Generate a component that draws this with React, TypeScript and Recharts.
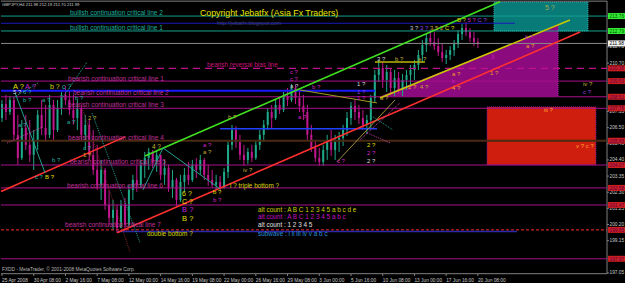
import React from "react";
import { ComposedChart, XAxis, YAxis, Bar, Scatter, ReferenceLine, ReferenceArea } from "recharts";

const FONT = "'Liberation Sans', Arial, sans-serif";
const BULL = "#1fa98a";
const BEAR = "#c0168e";

// ---- candles (H4 bars, two bars per drawn candle) ----
const opens = [
  207.13, 208.04, 207.52, 208.30, 206.03, 204.53, 206.48, 205.38, 204.73, 205.70,
  207.33, 206.48, 206.03, 207.98, 206.35, 207.78, 208.63, 208.30, 207.65, 207.13,
  207.78, 206.03, 206.68, 204.73, 203.75, 202.78, 203.75, 201.48, 200.63, 201.15,
  199.98, 201.48, 200.18, 202.45, 203.10, 202.78, 204.08, 204.53, 204.92, 204.27,
  204.73, 203.43, 203.88, 202.58, 203.10, 201.80, 202.97, 203.43, 203.10, 204.08,
  203.75, 204.40, 203.43, 203.10, 202.78, 202.97, 202.58, 203.62, 205.38, 206.35,
  205.57, 204.73, 204.40, 204.92, 204.53, 205.38, 206.03, 206.68, 207.52, 207.13,
  207.98, 207.65, 208.56, 208.30, 209.08, 208.43, 207.91, 207.52, 206.03, 205.18,
  204.53, 204.27, 205.05, 205.70, 205.05, 205.57, 205.83, 206.35, 207.13, 207.91,
  207.52, 207.13, 206.68, 207.00, 208.43, 209.93, 210.38, 209.60, 210.12, 209.08,
  209.73, 208.95, 209.60, 209.93, 210.25, 210.58, 211.23, 211.88, 212.33, 212.07,
  211.81, 211.42, 211.03, 211.23, 211.55, 211.94, 212.59, 212.98, 212.72, 212.33,
  212.07,
];
const highs = [
  208.30, 208.63, 208.56, 208.43, 207.33, 207.00, 207.33, 207.00, 206.35, 207.65,
  208.30, 207.98, 208.63, 208.30, 208.30, 208.82, 209.21, 208.95, 208.63, 208.30,
  207.98, 207.33, 207.00, 206.35, 205.38, 204.40, 203.88, 202.45, 201.80, 201.48,
  201.80, 201.93, 202.78, 203.43, 204.08, 204.40, 204.92, 205.18, 205.05, 205.05,
  204.73, 204.40, 204.08, 203.75, 203.23, 203.43, 203.88, 204.27, 204.40, 204.53,
  204.73, 204.53, 204.08, 203.75, 203.43, 203.36, 203.88, 205.70, 206.68, 206.61,
  206.03, 205.38, 205.18, 205.38, 205.70, 206.35, 207.00, 207.78, 207.98, 208.30,
  208.43, 208.82, 209.08, 209.34, 209.28, 208.95, 208.63, 207.98, 206.68, 205.70,
  205.18, 205.38, 206.03, 206.35, 206.03, 206.22, 206.68, 207.52, 208.17, 208.30,
  207.98, 207.65, 207.33, 208.63, 210.25, 210.90, 210.77, 210.58, 210.38, 210.25,
  210.12, 209.99, 210.25, 210.58, 210.90, 211.55, 212.20, 212.66, 212.85, 212.72,
  212.33, 211.94, 211.55, 211.81, 212.20, 212.85, 213.24, 213.37, 212.98, 212.72,
  212.33,
];
const lows = [
  206.87, 207.00, 207.33, 205.70, 204.08, 204.40, 205.05, 204.27, 203.75, 205.05,
  206.03, 205.57, 205.83, 205.70, 206.22, 207.33, 207.98, 207.33, 206.68, 206.35,
  205.70, 205.05, 204.40, 203.43, 202.45, 201.80, 201.15, 200.18, 199.85, 199.66,
  199.98, 199.72, 199.98, 201.80, 202.32, 202.58, 203.23, 203.75, 203.88, 203.62,
  203.10, 202.78, 202.32, 201.93, 201.41, 201.67, 202.32, 202.78, 202.97, 203.23,
  203.43, 203.10, 202.71, 202.58, 202.45, 202.45, 202.52, 203.23, 205.05, 205.18,
  204.40, 204.01, 204.14, 204.27, 204.40, 205.05, 205.57, 206.35, 206.48, 207.00,
  207.39, 207.52, 207.91, 208.17, 208.04, 207.52, 207.00, 205.70, 204.92, 204.27,
  204.01, 204.01, 204.40, 204.66, 204.40, 204.92, 205.31, 205.96, 206.68, 207.00,
  206.74, 206.35, 206.09, 206.48, 208.17, 209.47, 209.08, 208.82, 208.63, 208.56,
  208.69, 208.56, 208.95, 209.21, 209.60, 210.25, 210.77, 211.42, 211.81, 211.55,
  211.16, 210.77, 210.64, 210.90, 211.16, 211.68, 212.20, 212.46, 212.07, 211.81,
  211.68,
];
const closes = [
  208.04, 207.52, 208.30, 206.03, 204.53, 206.48, 205.38, 204.73, 205.70, 207.33,
  206.48, 206.03, 207.98, 206.35, 207.78, 208.63, 208.30, 207.65, 207.13, 207.78,
  206.03, 206.68, 204.73, 203.75, 202.78, 203.75, 201.48, 200.63, 201.15, 199.98,
  201.48, 200.18, 202.45, 203.10, 202.78, 204.08, 204.53, 204.92, 204.27, 204.73,
  203.43, 203.88, 202.58, 203.10, 201.80, 202.97, 203.43, 203.10, 204.08, 203.75,
  204.40, 203.43, 203.10, 202.78, 202.97, 202.58, 203.62, 205.38, 206.35, 205.57,
  204.73, 204.40, 204.92, 204.53, 205.38, 206.03, 206.68, 207.52, 207.13, 207.98,
  207.65, 208.56, 208.30, 209.08, 208.43, 207.91, 207.52, 206.03, 205.18, 204.53,
  204.27, 205.05, 205.70, 205.05, 205.57, 205.83, 206.35, 207.13, 207.91, 207.52,
  207.13, 206.68, 207.00, 208.43, 209.93, 210.38, 209.60, 210.12, 209.08, 209.73,
  208.95, 209.60, 209.93, 210.25, 210.58, 211.23, 211.88, 212.33, 212.07, 211.81,
  211.42, 211.03, 211.23, 211.55, 211.94, 212.59, 212.98, 212.72, 212.33, 212.07,
  211.98,
];
const candles = opens.map((o, i) => ({ x: i * 2, o, h: highs[i], l: lows[i], c: closes[i] }));

// ---- axes ----
const X_LEFT = -0.5;
const X_FRAME = 305.1; // right edge of the price pane (price scale strip lies to its right)
const X_END = 314.17;
const Y_MIN = 196.98;
const Y_MAX = 214.74;
const timeTicks = [0, 16, 32, 48, 64, 80, 96, 112, 128, 144, 160, 176, 192, 208, 224, 240];
const timeLabels = [
  "25 Apr 2008", "30 Apr 08:00", "2 May 16:00", "7 May 08:00", "12 May 00:00", "14 May 16:00",
  "19 May 08:00", "22 May 00:00", "26 May 16:00", "29 May 08:00", "3 Jun 00:00", "5 Jun 16:00",
  "10 Jun 08:00", "13 Jun 00:00", "17 Jun 16:00", "20 Jun 08:00",
];
const priceTicks = [211.75, 210.7, 207.55, 206.5, 205.45, 204.4, 203.35, 202.3, 201.25, 200.2, 199.15, 197.05];

// ---- price tags on the price scale ----
const tagPrices = [213.76, 212.79, 211.98, 210.36, 209.53, 208.51, 207.76, 205.65, 204.07, 202.58, 201.47, 199.85, 197.97];
const tagKinds = ["g", "g", "w", "r", "r", "r", "r", "r", "r", "r", "r", "r", "r"];
const scaleMarks = [
  ...priceTicks.map((p) => ({ x: X_FRAME, y: p, k: "t" })),
  ...tagPrices.map((p, i) => ({ x: X_FRAME, y: p, k: tagKinds[i] })),
];

// ---- horizontal levels ----
const fullLines = [
  { y: 213.76, c: "#16a08c", w: 1, d: "" },
  { y: 212.79, c: "#16a08c", w: 1, d: "" },
  { y: 211.98, c: "#8a8a8a", w: 1, d: "" },
  { y: 210.36, c: "#c0108c", w: 1.2, d: "7 5" },
  { y: 209.53, c: "#a8108a", w: 1, d: "" },
  { y: 208.51, c: "#a8108a", w: 1, d: "" },
  { y: 207.76, c: "#a8108a", w: 1, d: "" },
  { y: 205.65, c: "#4a2a12", w: 2, d: "" },
  { y: 204.07, c: "#a8108a", w: 1, d: "" },
  { y: 202.58, c: "#a8108a", w: 1, d: "" },
  { y: 201.47, c: "#a8108a", w: 1, d: "" },
  { y: 199.85, c: "#ff2a2a", w: 1, d: "3 2" },
  { y: 197.97, c: "#a8108a", w: 1, d: "" },
];

const partLines = [
  { x1: -0.5, x2: 258.7, y: 213.29, c: "#1a1ab8", w: 1 },
  { x1: -0.5, x2: 188.1, y: 208.9, c: "#1818ff", w: 2 },
  { x1: 110, x2: 189.1, y: 206.43, c: "#2040ff", w: 1.5 },
  { x1: 58, x2: 259.7, y: 199.75, c: "#2a2aa8", w: 1.5 },
  { x1: 188.1, x2: 213.3, y: 210.77, c: "#b8b800", w: 1.5 },
];

// ---- trend lines [x1, y1, x2, y2] ----
const trendLines = [
  { p: [72.1, 204.66, 251.1, 214.69], c: "#40e020", w: 1.6, d: "" },
  { p: [-0.5, 202.35, 62.0, 205.9], c: "#ff3030", w: 1.6, d: "" },
  { p: [58.0, 199.66, 291.5, 212.72], c: "#ff3030", w: 1.6, d: "" },
  { p: [190.6, 208.43, 286.4, 213.5], c: "#c8c800", w: 1.5, d: "" },
  { p: [150.3, 208.95, 189.1, 208.11], c: "#a09a20", w: 1, d: "" },
  { p: [5.5, 208.43, 18.2, 209.41], c: "#20a090", w: 1, d: "1 1" },
  { p: [30.8, 208.5, 42.9, 210.77], c: "#20a090", w: 1, d: "1 1" },
  { p: [6.6, 208.76, 21.7, 203.56], c: "#20a090", w: 1, d: "" },
  { p: [45.4, 207.45, 69.6, 199.01], c: "#20a090", w: 1, d: "1 1" },
  { p: [71.1, 202.45, 81.2, 205.18], c: "#20a090", w: 1, d: "" },
  { p: [81.2, 205.18, 109.9, 202.52], c: "#20a090", w: 1, d: "" },
  { p: [40.8, 207.65, 64.5, 198.42], c: "#802020", w: 1, d: "1 1" },
  { p: [168.9, 204.27, 198.2, 208.3], c: "#a09040", w: 1, d: "" },
  { p: [180.5, 205.7, 200.7, 208.11], c: "#c040a0", w: 1, d: "1 1" },
  { p: [184.1, 206.16, 195.7, 205.51], c: "#c040a0", w: 1, d: "1 1" },
  { p: [187.1, 207.2, 197.2, 206.35], c: "#20a090", w: 1, d: "1 1" },
  { p: [2.5, 205.5, 20.7, 206.55], c: "#c040a0", w: 1, d: "1 1" },
];

// ---- text annotations ----
const TEAL = "#20b0a0";
const OLIVE = "#c0b030";
const MAG = "#d020c0";
const PURP = "#9040e0";
const WHITE = "#d8d8d8";
const YEL = "#e0e000";
const ORG = "#f0a020";
const CRIT = "#c0309a";
const annotations: any[] = [
  { x: 0, y: 214.54, t: "GBPJPY,H4  211.98 212.19 211.70 211.99", c: "#d0d0d0", s: 4.2 },
  { x: 99.8, y: 213.99, t: "Copyright Jebatfx (Asia Fx Traders)", c: "#e8e800", s: 8.8 },
  { x: 108.4, y: 213.31, t: "http://jebatfx.blogspot.com", c: "#40407a", s: 5.5 },
  { x: 34.3, y: 213.97, t: "bullish continuation critical line 2", c: "#1fb09c", s: 6.5 },
  { x: 34.3, y: 213.03, t: "bullish continuation critical line 1", c: "#1fb09c", s: 6.5 },
  { x: 103.4, y: 210.61, t: "bearish reversal bias line", c: "#c81478", s: 6.4 },
  { x: 33.3, y: 209.73, t: "bearish continuation critical line 1", c: CRIT, s: 6.5 },
  { x: 35.8, y: 208.76, t: "bearish continuation critical line 2", c: CRIT, s: 6.5 },
  { x: 33.3, y: 207.98, t: "bearish continuation critical line 3", c: CRIT, s: 6.5 },
  { x: 33.3, y: 205.88, t: "bearish continuation critical line 4", c: CRIT, s: 6.5 },
  { x: 34.3, y: 204.27, t: "bearish continuation critical line 5", c: CRIT, s: 6.5 },
  { x: 32.8, y: 202.71, t: "bearish continuation critical line 6", c: CRIT, s: 6.5 },
  { x: 31.8, y: 200.18, t: "bearish continuation critical line 7", c: CRIT, s: 6.5 },
  { x: 73.1, y: 199.59, t: "double bottom ?", c: "#d8d800", s: 6.4 },
  { x: 115.0, y: 202.71, t: "i ? triple bottom ?", c: "#d8d800", s: 6.4 },
  { x: 129.1, y: 201.2, t: "alt count : A B C 1 2 3 4 5 a b c d e", c: "#d0d000", s: 6.4 },
  { x: 129.1, y: 200.71, t: "alt count : A B C 1 2 3 4 5 a b c", c: "#c010c0", s: 6.4 },
  { x: 129.1, y: 200.19, t: "alt count : 1 2 3 4 5", c: "#e0e0e0", s: 6.4 },
  { x: 129.1, y: 199.64, t: "subwave : i ii iii iv v a b c", c: "#2a90d8", s: 6.4 },
  { x: 5.55, y: 209.21, t: "A ?", c: YEL, s: 7.5 },
  { x: 11.6, y: 209.21, t: "A ?", c: "#c020d0", s: 7.5 },
  { x: 24.2, y: 209.21, t: "b ?", c: "#d8d800", s: 7 },
  { x: 30.3, y: 209.21, t: "c ?", c: TEAL, s: 7 },
  { x: 5.55, y: 208.8, t: "5 ?", c: WHITE, s: 6 },
  { x: 10.6, y: 208.8, t: "6 ?", c: TEAL, s: 6 },
  { x: 10.6, y: 208.3, t: "b ?", c: TEAL, s: 6 },
  { x: 20.2, y: 208.3, t: "a ?", c: TEAL, s: 6 },
  { x: 36.8, y: 208.42, t: "b ?", c: TEAL, s: 6 },
  { x: 8.1, y: 206.68, t: "a ?", c: TEAL, s: 6 },
  { x: 32.8, y: 206.87, t: "a ?", c: TEAL, s: 6 },
  { x: 43.4, y: 207.13, t: "2 ?", c: OLIVE, s: 6 },
  { x: 40.8, y: 205.18, t: "c ?", c: TEAL, s: 6 },
  { x: 40.8, y: 204.73, t: "1 ?", c: OLIVE, s: 6 },
  { x: 25.2, y: 204.4, t: "b ?", c: TEAL, s: 6 },
  { x: 16.6, y: 203.3, t: "c ?", c: TEAL, s: 6 },
  { x: 21.7, y: 203.3, t: "B ?", c: YEL, s: 6 },
  { x: 75.6, y: 205.25, t: "4 ?", c: OLIVE, s: 6.5 },
  { x: 90.8, y: 202.19, t: "6 ?", c: YEL, s: 7 },
  { x: 90.8, y: 201.67, t: "C ?", c: YEL, s: 7 },
  { x: 90.8, y: 201.2, t: "B ?", c: "#c020e0", s: 7.5 },
  { x: 90.8, y: 200.61, t: "B ?", c: YEL, s: 7.5 },
  { x: 101.4, y: 205.38, t: "a ?", c: MAG, s: 6 },
  { x: 101.4, y: 204.92, t: "a ?", c: OLIVE, s: 6 },
  { x: 106.4, y: 202.32, t: "b ?", c: YEL, s: 6 },
  { x: 106.4, y: 201.8, t: "b ?", c: MAG, s: 6 },
  { x: 114.0, y: 207.2, t: "b ?", c: OLIVE, s: 6 },
  { x: 121.5, y: 203.75, t: "iv ?", c: OLIVE, s: 6 },
  { x: 149.3, y: 207.2, t: "a ?", c: MAG, s: 6 },
  { x: 145.2, y: 210.12, t: "c ?", c: MAG, s: 6 },
  { x: 145.2, y: 209.67, t: "c ?", c: MAG, s: 6 },
  { x: 145.2, y: 209.21, t: "a ?", c: "#d0c0d0", s: 6 },
  { x: 156.3, y: 209.15, t: "b ?", c: MAG, s: 6 },
  { x: 179.0, y: 209.34, t: "1 ?", c: WHITE, s: 6 },
  { x: 179.0, y: 208.85, t: "1 ?", c: PURP, s: 6 },
  { x: 179.0, y: 208.4, t: "1 ?", c: MAG, s: 6 },
  { x: 184.1, y: 205.38, t: "2 ?", c: YEL, s: 6 },
  { x: 184.1, y: 204.86, t: "2 ?", c: MAG, s: 6 },
  { x: 184.1, y: 204.34, t: "2 ?", c: WHITE, s: 6 },
  { x: 168.9, y: 204.34, t: "c ?", c: MAG, s: 6 },
  { x: 189.1, y: 210.97, t: "3 ?", c: WHITE, s: 6 },
  { x: 198.2, y: 210.97, t: "b ?", c: OLIVE, s: 6 },
  { x: 209.8, y: 210.97, t: "e ?", c: OLIVE, s: 6 },
  { x: 190.6, y: 208.43, t: "a ?", c: OLIVE, s: 6 },
  { x: 204.7, y: 209.15, t: "2 ?", c: ORG, s: 6 },
  { x: 210.8, y: 209.15, t: "4 ?", c: OLIVE, s: 6 },
  { x: 226.9, y: 209.99, t: "a ?", c: ORG, s: 6 },
  { x: 226.9, y: 209.54, t: "b", c: MAG, s: 5 },
  { x: 226.9, y: 209.08, t: "4 ?", c: ORG, s: 6 },
  { x: 246.1, y: 210.06, t: "1 ?", c: ORG, s: 6 },
  { x: 246.6, y: 211.1, t: "3", c: MAG, s: 5.5 },
  { x: 263.7, y: 212.38, t: "b ?", c: MAG, s: 6 },
  { x: 264.2, y: 211.83, t: "a ?", c: ORG, s: 6 },
  { x: 205.7, y: 213.0, parts: [["3 ? ", "#c8c8c8"], ["3 ? ", PURP], ["3 5 2 ", "#d0a040"], ["C ?", YEL]], s: 6 },
  { x: 229.4, y: 213.5, parts: [["B ? ", "#d0c000"], ["5 ? ", MAG], ["C ?", PURP]], s: 6 },
  { x: 273.8, y: 214.31, t: "5 ?", c: "#a8a848", s: 7 },
  { x: 293.0, y: 209.31, t: "iv ?", c: OLIVE, s: 6 },
  { x: 293.0, y: 208.82, t: "c ?", c: PURP, s: 6 },
  { x: 273.3, y: 207.65, t: "iii ?", c: "#ffa030", s: 6 },
  { x: 289.5, y: 205.31, t: "v ? c ?", c: "#ffa030", s: 6 },
  { x: 0, y: 197.25, t: "FXDD - MetaTrader, \u00a9 2001-2008 MetaQuotes Software Corp.", c: "#b8b8b8", s: 4.8 },
];

// ---- shapes ----
const CandleShape = (props: any) => {
  const { x, y, width, height, payload } = props;
  if (x == null || y == null || !payload) return null;
  const top = Math.min(y, y + height);
  const hgt = Math.abs(height);
  const cx = x + width / 2;
  const span = payload.h - payload.l;
  const py = (p: number) => (span > 0 ? top + ((payload.h - p) / span) * hgt : top);
  const up = payload.c >= payload.o;
  const col = up ? BULL : BEAR;
  const bt = py(Math.max(payload.o, payload.c));
  const bb = py(Math.min(payload.o, payload.c));
  return (
    <g>
      <line x1={cx} x2={cx} y1={top} y2={top + hgt} stroke={col} strokeWidth={1} />
      <rect x={cx - 1} y={bt} width={2} height={Math.max(1, bb - bt)} fill={col} />
    </g>
  );
};

const TextShape = (props: any) => {
  const { cx, cy, payload } = props;
  if (cx == null || cy == null) return null;
  if (payload.parts) {
    return (
      <text x={cx} y={cy} fontSize={payload.s} fontFamily={FONT} dominantBaseline="central">
        {payload.parts.map((pt: any, i: number) => (
          <tspan key={i} fill={pt[1]}>{pt[0]}</tspan>
        ))}
      </text>
    );
  }
  return (
    <text x={cx} y={cy} fill={payload.c} fontSize={payload.s} fontFamily={FONT} dominantBaseline="central">
      {payload.t}
    </text>
  );
};

// price-scale mark: tick + label, or a coloured price tag
const ScaleShape = (props: any) => {
  const { cx, cy, payload } = props;
  if (cx == null || cy == null) return null;
  const v = payload.y as number;
  if (payload.k === "t") {
    return (
      <g>
        <line x1={cx} x2={cx + 2} y1={cy} y2={cy} stroke="#808080" />
        <text x={cx + 2.5} y={cy} fill="#c8c8c8" fontSize={4.8} fontFamily={FONT} dominantBaseline="central">
          {v.toFixed(2)}
        </text>
      </g>
    );
  }
  const bg = payload.k === "g" ? "#33ee33" : payload.k === "w" ? "#f4f4f4" : "#cc1e1e";
  const fg = payload.k === "g" ? "#005000" : payload.k === "w" ? "#000000" : "#5a0050";
  return (
    <g>
      <rect x={cx + 1} y={cy - 3} width={18} height={6} fill={bg} />
      <text x={cx + 2.5} y={cy + 0.3} fill={fg} fontSize={4.8} fontFamily={FONT} dominantBaseline="central">
        {v.toFixed(2)}
      </text>
    </g>
  );
};

const TimeTick = (props: any) => {
  const { x, y, payload } = props;
  const i = timeTicks.indexOf(payload.value);
  return (
    <text x={x} y={y + 0.5} fill="#c8c8c8" stroke="none" fontSize={4.8} fontFamily={FONT} dominantBaseline="hanging" textAnchor="start">
      {timeLabels[i]}
    </text>
  );
};

const TriangleShape = (p: any) => {
  if (p.x == null) return null;
  const pts = `${p.x},${p.y + p.height} ${p.x + p.width},${p.y} ${p.x + p.width},${p.y + p.height}`;
  return (
    <g>
      <polygon points={pts} fill="#8b0a7d" />
      <line x1={p.x + p.width} x2={p.x + p.width} y1={p.y} y2={p.y + p.height} stroke="#c020c0" strokeDasharray="1 1" />
    </g>
  );
};

export default function App() {
  return (
    <div style={{ position: "absolute", left: 0, top: 0, width: 625, height: 283, background: "#000" }}>
      <style>{`body{margin:0;background:#000}`}</style>
      <ComposedChart width={625} height={283} data={candles} margin={{ top: 1, right: 0, bottom: 0, left: 1 }}>
        <XAxis
          dataKey="x"
          type="number"
          domain={[X_LEFT, X_END]}
          allowDataOverflow
          ticks={timeTicks}
          interval={0}
          tick={<TimeTick />}
          tickSize={2}
          tickLine={{ stroke: "#808080" }}
          axisLine={false}
          height={9}
        />
        <YAxis hide type="number" domain={[Y_MIN, Y_MAX]} allowDataOverflow />
        <ReferenceArea x1={248.1} x2={295.5} y1={212.79} y2={214.67} fill="#087a78" fillOpacity={1} stroke="#30b0b0" strokeDasharray="1 1" ifOverflow="visible" />
        <ReferenceArea x1={190.6} x2={280.4} y1={208.52} y2={213.18} fillOpacity={1} shape={<TriangleShape />} ifOverflow="visible" />
        <ReferenceArea x1={244.6} x2={299.5} y1={204.08} y2={207.85} fill="#d01e0e" fillOpacity={1} stroke="#8020a0" strokeDasharray="1 1" ifOverflow="visible" />
        {/* pane frame */}
        <ReferenceLine segment={[{ x: X_LEFT, y: 214.73 }, { x: X_FRAME, y: 214.73 }]} stroke="#808080" ifOverflow="visible" />
        <ReferenceLine segment={[{ x: X_LEFT, y: Y_MIN + 0.02 }, { x: X_FRAME, y: Y_MIN + 0.02 }]} stroke="#808080" ifOverflow="visible" />
        <ReferenceLine segment={[{ x: X_FRAME, y: Y_MIN }, { x: X_FRAME, y: Y_MAX }]} stroke="#808080" ifOverflow="visible" />
        {fullLines.map((l, i) => (
          <ReferenceLine
            key={"fl" + i}
            segment={[{ x: X_LEFT, y: l.y }, { x: X_FRAME, y: l.y }]}
            stroke={l.c}
            strokeWidth={l.w}
            strokeDasharray={l.d || undefined}
            ifOverflow="visible"
          />
        ))}
        {partLines.map((l, i) => (
          <ReferenceLine
            key={"pl" + i}
            segment={[{ x: l.x1, y: l.y }, { x: l.x2, y: l.y }]}
            stroke={l.c}
            strokeWidth={l.w}
            ifOverflow="visible"
          />
        ))}
        {trendLines.map((l, i) => (
          <ReferenceLine
            key={"tl" + i}
            segment={[{ x: l.p[0], y: l.p[1] }, { x: l.p[2], y: l.p[3] }]}
            stroke={l.c}
            strokeWidth={l.w}
            strokeDasharray={l.d || undefined}
            ifOverflow="visible"
          />
        ))}
        <Bar dataKey={(d: any) => [d.l, d.h]} barSize={3} shape={<CandleShape />} isAnimationActive={false} />
        <Scatter data={annotations} dataKey="y" shape={<TextShape />} isAnimationActive={false} />
        <Scatter data={scaleMarks} dataKey="y" shape={<ScaleShape />} isAnimationActive={false} />
      </ComposedChart>
    </div>
  );
}
